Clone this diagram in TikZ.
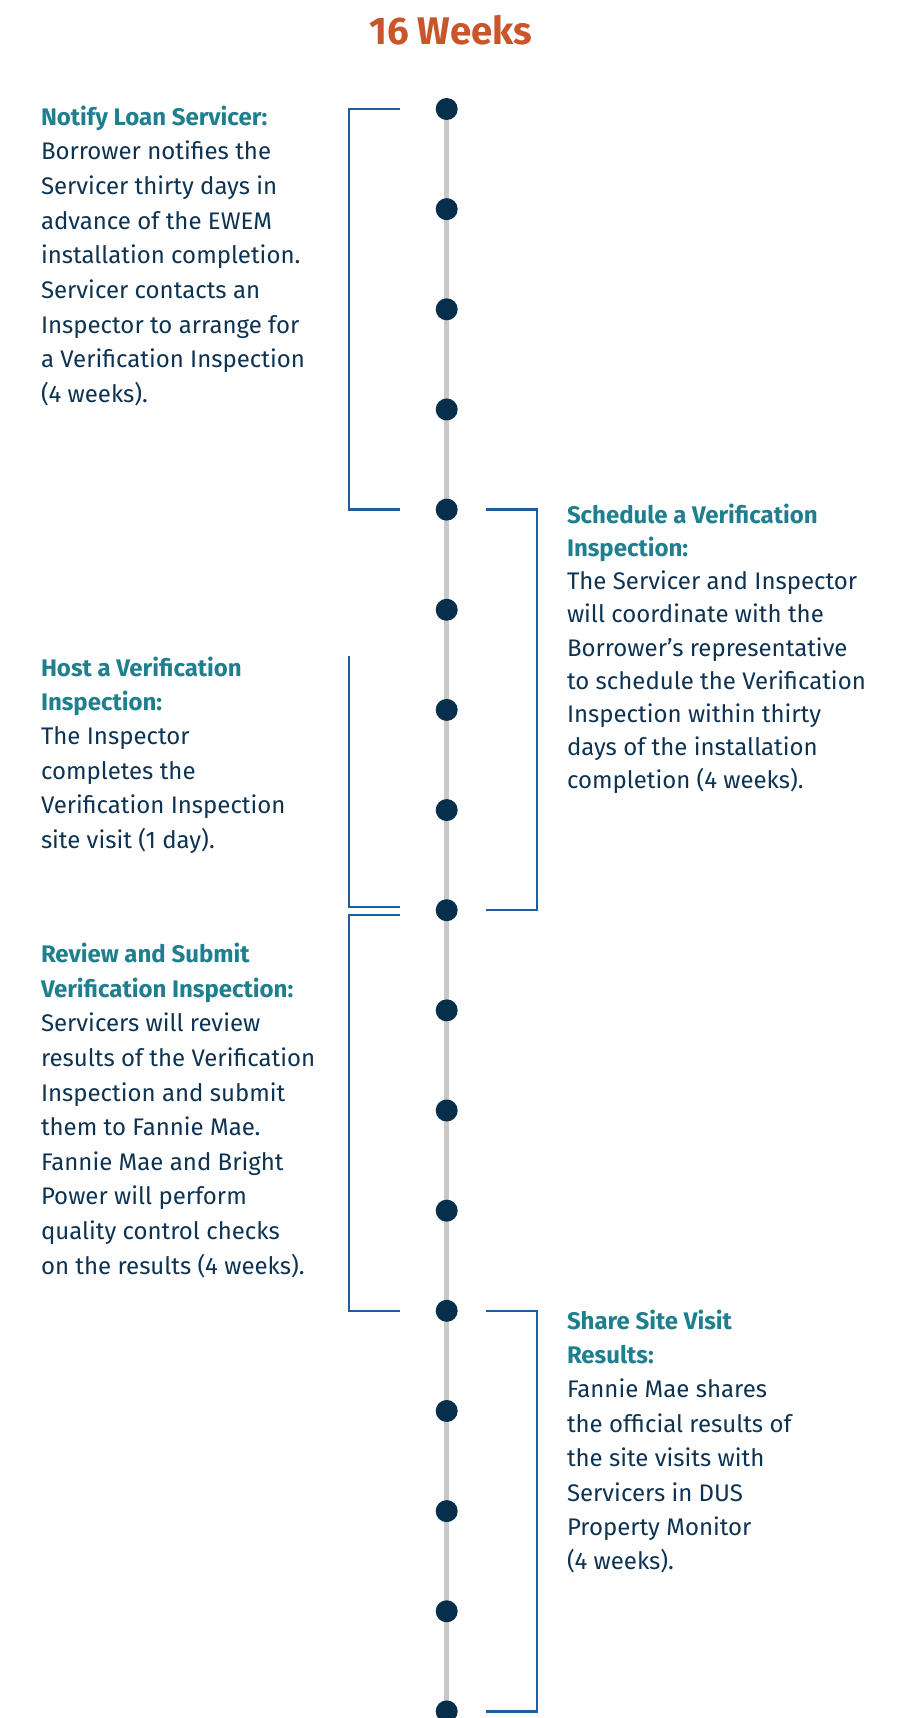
\documentclass[tikz,border=0pt]{standalone}
\usepackage{fontspec}
\setmainfont{Fira Sans}
\usetikzlibrary{calc,backgrounds}
\definecolor{ttl}{HTML}{1F7F8E}
\definecolor{bdy}{HTML}{0E3352}
\definecolor{brk}{HTML}{1E5E9E}
\definecolor{org}{HTML}{C9552A}
\definecolor{dotc}{HTML}{062F4C}
\definecolor{rail}{HTML}{C8C8C8}
\newcommand\blk[3]{\parbox[t]{360pt}{\leavevmode\fontsize{24}{#1}\selectfont\raggedright\color{ttl}\bfseries #2\\\color{bdy}\mdseries #3}}
\begin{document}
\begin{tikzpicture}[x=1pt,y=-1pt,
  txt/.style={anchor=base west, inner sep=0pt, outer sep=0pt},
  bracket/.style={draw=brk, line width=2.4pt},
  tdot/.style={circle, fill=dotc, minimum size=22pt, inner sep=0pt}]
\useasboundingbox (0,0) rectangle (908,1718);
\node[anchor=base, inner sep=0pt, text=org, font=\fontsize{38.5}{40}\selectfont\bfseries] (title) at (450.7,45) {16 Weeks};
\foreach \i in {1,...,17} \node[tdot] (d\i) at (446.7,{109+(\i-1)*100.15}) {};
\begin{scope}[on background layer]
\draw[rail, line width=5pt] (d1.center) -- (d17.center);
\end{scope}
% brackets
\draw[bracket] ($(d1.center)+(-46.7,0)$) -- ++(-51,0) -- ($(d5.center)+(-97.7,0)$) -- ++(51,0);
\draw[bracket] ($(d7.center)+(-97.7,-53.9)$) -- ($(d9.center)+(-97.7,-3.2)$) -- ++(51,0);
\draw[bracket] ($(d9.center)+(-46.7,4.5)$) -- ++(-51,0) -- ($(d13.center)+(-97.7,0)$) -- ++(51,0);
\draw[bracket] ($(d5.center)+(39.3,0)$) -- ++(51,0) -- ($(d9.center)+(90.3,0)$) -- ++(-51,0);
\draw[bracket] ($(d13.center)+(39.3,0)$) -- ++(51,0) -- ($(d17.center)+(90.3,0)$) -- ++(-51,0);
% texts
\node[txt] (notify) at (41,125) {\blk{34.7}{Notify Loan Servicer:}{Borrower notifies the\\Servicer thirty days in\\advance of the EWEM\\installation completion.\\Servicer contacts an\\Inspector to arrange for\\a Verification Inspection\\(4 weeks).}};
\node[txt] (schedule) at (567,523.3) {\blk{33.2}{Schedule a Verification\\Inspection:}{The Servicer and Inspector\\will coordinate with the\\Borrower’s representative\\to schedule the Verification\\Inspection within thirty\\days of the installation\\completion (4 weeks).}};
\node[txt] (host) at (41,676) {\blk{34.4}{Host a Verification\\Inspection:}{The Inspector\\completes the\\Verification Inspection\\site visit (1 day).}};
\node[txt] (review) at (41,962.7) {\blk{34.6}{Review and Submit\\Verification Inspection:}{Servicers will review\\results of the Verification\\Inspection and submit\\them to Fannie Mae.\\Fannie Mae and Bright\\Power will perform\\quality control checks\\on the results (4 weeks).}};
\node[txt] (share) at (567,1329) {\blk{34.4}{Share Site Visit\\Results:}{Fannie Mae shares\\the official results of\\the site visits with\\Servicers in DUS\\Property Monitor\\(4 weeks).}};
\end{tikzpicture}
\end{document}
